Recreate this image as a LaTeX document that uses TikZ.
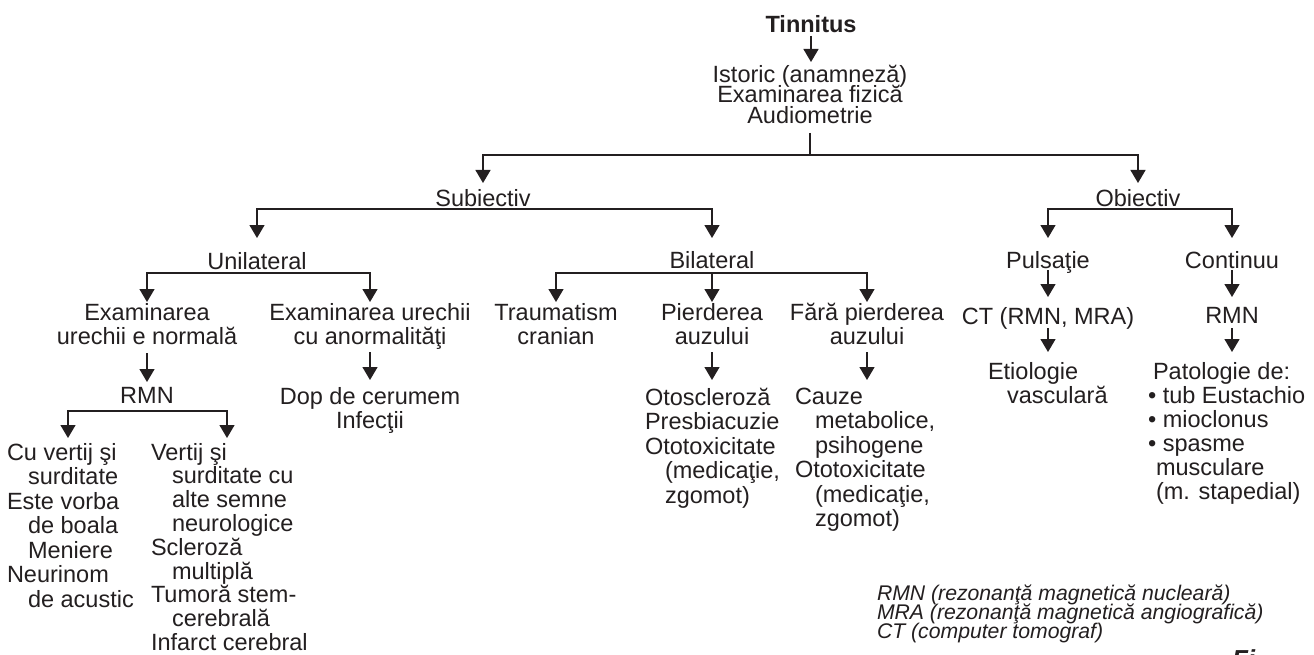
\documentclass[tikz,border=0pt]{standalone}
\usepackage{fontspec}
\setmainfont{Liberation Sans}
\usetikzlibrary{arrows.meta}
\definecolor{ink}{HTML}{231F20}
\newcommand{\ind}{\hspace*{20pt}}
\newcommand{\myfs}[2]{\fontsize{#1}{#2}\selectfont\lineskiplimit=-100pt\relax}
\begin{document}
\begin{tikzpicture}[x=1pt,y=-1pt,
  every node/.style={inner sep=0pt, outer sep=0pt, text=ink},
  txt/.style={font=\myfs{23.5}{24.5}, align=center, anchor=north},
  ltxt/.style={font=\myfs{23.5}{24.5}, align=left, anchor=north west},
  arr/.style={draw=ink, line width=1.3pt, -{Triangle[width=15pt,length=13pt]}},
  ln/.style={draw=ink, line width=1.3pt}]
\fill[white] (0,0) rectangle (1314,655);
\useasboundingbox (0,0) rectangle (1314,655);

% nodes
\node[txt, font={\myfs{23.5}{24.5}\bfseries}] (tin) at (811,15) {Tinnitus};
\node[txt, font={\myfs{23.5}{20.5}}] (ist) at (810,65) {Istoric (anamneză)\\Examinarea fizică\\Audiometrie};
\node[txt] (sub) at (483,189) {Subiectiv};
\node[txt] (obi) at (1138,189) {Obiectiv};
\node[txt] (uni) at (257,252) {Unilateral};
\node[txt] (bil) at (712,251) {Bilateral};
\node[txt] (pul) at (1048,251) {Pulsaţie};
\node[txt] (con) at (1232,251) {Continuu};
\node[txt] (exn) at (147,303) {Examinarea\\urechii e normală};
\node[txt] (exa) at (370,303) {Examinarea urechii\\cu anormalităţi};
\node[txt] (tra) at (556,303) {Traumatism\\cranian};
\node[txt] (pie) at (712,303) {Pierderea\\auzului};
\node[txt] (far) at (867,303) {Fără pierderea\\auzului};
\node[txt] (ct) at (1048,307) {CT (RMN, MRA)};
\node[txt] (rmn2) at (1232,307) {RMN};
\node[txt] (rmn1) at (147,387) {RMN};
\node[txt] (dop) at (370,387) {Dop de cerumem\\Infecţii};
\node[ltxt] (etio) at (988,362) {Etiologie\\\hspace*{19pt}vasculară};
\node[ltxt, font={\myfs{23.5}{24}}] (pat) at (1148,362) {\hspace*{5pt}Patologie de:\\\textbullet\ tub Eustachio\\\textbullet\ mioclonus\\\textbullet\ spasme\\\hspace*{8pt}musculare\\\hspace*{8pt}(m. stapedial)};
\node[ltxt] (oto) at (645,388) {Otoscleroză\\Presbiacuzie\\Ototoxicitate\\\ind(medicaţie,\\\ind zgomot)};
\node[ltxt] (cau) at (795,388) {Cauze\\\ind metabolice,\\\ind psihogene\\Ototoxicitate\\\ind(medicaţie,\\\ind zgomot)};
\node[ltxt] (cuv) at (7,443) {Cu vertij şi\\\hspace*{21pt}surditate\\Este vorba\\\hspace*{21pt}de boala\\\hspace*{21pt}Meniere\\Neurinom\\\hspace*{21pt}de acustic};
\node[ltxt, font={\myfs{23.5}{23.8}}] (ver) at (151,443) {Vertij şi\\\hspace*{21pt}surditate cu\\\hspace*{21pt}alte semne\\\hspace*{21pt}neurologice\\Scleroză\\\hspace*{21pt}multiplă\\Tumoră stem-\\\hspace*{21pt}cerebrală\\Infarct cerebral};
\node[ltxt, font={\myfs{21.2}{18.7}\itshape}] (leg) at (877,585) {RMN (rezonanţă magnetică nucleară)\\MRA (rezonanţă magnetică angiografică)\\CT (computer tomograf)};
\node[ltxt, font={\myfs{26}{26}\bfseries\itshape}] (fig) at (1232,650) {Fi};

\coordinate (t1) at (68,438);
\coordinate (t2) at (227,438);

% connectors
\draw[arr] (tin.south |- 0,36) -- (tin.south |- 0,62);
\draw[ln] (ist.south |- 0,133) -- (ist.south |- 0,155);
\draw[arr] (ist.south |- 0,155) -| (sub.north |- 0,183);
\draw[arr] (ist.south |- 0,155) -| (obi.north |- 0,183);
\draw[arr] (sub.south |- 0,209) -| (uni.north |- 0,238);
\draw[arr] (sub.south |- 0,209) -| (bil.north |- 0,238);
\draw[arr] (obi.south |- 0,209) -| (pul.north |- 0,238);
\draw[arr] (obi.south |- 0,209) -| (con.north |- 0,238);
\draw[arr] (uni.south |- 0,273) -| (exn.north |- 0,302);
\draw[arr] (uni.south |- 0,273) -| (exa.north |- 0,302);
\draw[arr] (bil.south |- 0,273) -| (tra.north |- 0,302);
\draw[arr] (bil.south |- 0,273) -- (pie.north |- 0,302);
\draw[arr] (bil.south |- 0,273) -| (far.north |- 0,302);
\draw[arr] (pul.south |- 0,270) -- (pul.south |- 0,297);
\draw[arr] (ct.south |- 0,328) -- (ct.south |- 0,352);
\draw[arr] (con.south |- 0,270) -- (con.south |- 0,297);
\draw[arr] (rmn2.south |- 0,328) -- (rmn2.south |- 0,352);
\draw[arr] (exn.south |- 0,353) -- (exn.south |- 0,382);
\draw[arr] (exa.south |- 0,352) -- (exa.south |- 0,380);
\draw[arr] (pie.south |- 0,352) -- (pie.south |- 0,380);
\draw[arr] (far.south |- 0,352) -- (far.south |- 0,380);
\draw[arr] (rmn1.south |- 0,411) -| (t1);
\draw[arr] (rmn1.south |- 0,411) -| (t2);
\end{tikzpicture}
\end{document}
